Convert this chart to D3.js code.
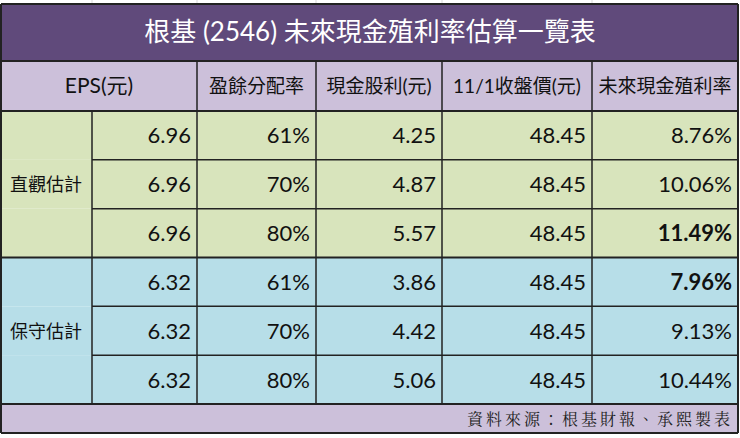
<!DOCTYPE html>
<html><head><meta charset="utf-8">
<script src="https://cdn.jsdelivr.net/npm/d3@7"></script>
<style>body{margin:0;background:#fff}</style></head>
<body><svg id="c" width="740" height="438"></svg>
<script>
const title = "根基 (2546) 未來現金殖利率估算一覽表";
const headers = ["EPS(元)", "盈餘分配率", "現金股利(元)", "11/1收盤價(元)", "未來現金殖利率"];
const groups = ["直觀估計", "保守估計"];
const eps = ["6.96","6.96","6.96","6.32","6.32","6.32"];
const payout = ["61%","70%","80%","61%","70%","80%"];
const dividend = ["4.25","4.87","5.57","3.86","4.42","5.06"];
const price = ["48.45","48.45","48.45","48.45","48.45","48.45"];
const yieldPct = ["8.76%","10.06%","11.49%","7.96%","9.13%","10.44%"];
const boldYield = ["11.49%","7.96%"];
const source = "資料來源：根基財報、承熙製表";

const svg = d3.select("#c");
const xs = [1, 92, 197, 316, 442, 592, 738];
const font = "Lato, 'Noto Sans CJK TC', sans-serif";
const y = d3.scaleLinear().domain([0, 6]).range([111, 404]);
const rowH = y(1) - y(0);
svg.append("rect").attr("x",0).attr("y",0).attr("width",740).attr("height",438).attr("fill","#fff");
[92,197,316,442,592].forEach(x=>svg.append("line").attr("x1",x).attr("x2",x).attr("y1",0).attr("y2",4).attr("stroke","#d9d9d9"));
svg.append("rect").attr("x",1).attr("y",4).attr("width",737).attr("height",57).attr("fill","#604a7b");
svg.append("text").attr("x",370).attr("y",41).attr("text-anchor","middle").attr("fill","#fff")
  .attr("font-family",font).attr("font-size",26).text(title);
svg.append("rect").attr("x",1).attr("y",61).attr("width",737).attr("height",50).attr("fill","#ccc0da");
const hx = [[xs[0],xs[2]],[xs[2],xs[3]],[xs[3],xs[4]],[xs[4],xs[5]],[xs[5],xs[6]]];
headers.forEach((h,i)=>{
  svg.append("text").attr("x",(hx[i][0]+hx[i][1])/2).attr("y",93).attr("text-anchor","middle")
   .attr("font-family",font).attr("font-size",i==0?21:19).attr("fill","#111").text(h);
});
const rows = d3.range(6);
svg.selectAll("rect.row").data(rows).join("rect").attr("class","row").attr("x",1).attr("y",d=>y(d)).attr("width",737).attr("height",rowH)
  .attr("fill",d=>d<3?"#d8e4bc":"#b7dee8");
groups.forEach((g,i)=>svg.append("text").attr("x",46).attr("y",y(i*3+1.5)+7).attr("text-anchor","middle")
  .attr("font-family",font).attr("font-size",18).attr("fill","#111").text(g));
const cols = [eps,payout,dividend,price,yieldPct];
cols.forEach((arr,c)=>{
  svg.selectAll("text.c"+c).data(arr).join("text").attr("class","c"+c).attr("x",xs[c+2]-6).attr("y",(d,i)=>y(i)+rowH/2+8)
   .attr("text-anchor","end").attr("font-family",font).attr("font-size",22).attr("fill","#111")
   .attr("font-weight",d=>c==4&&boldYield.includes(d)?"bold":"normal").text(d=>d);
});
svg.append("rect").attr("x",1).attr("y",404).attr("width",737).attr("height",29).attr("fill","#ccc0da");
svg.append("text").attr("x",733).attr("y",425).attr("text-anchor","end").attr("font-family","'Noto Serif CJK TC','Noto Sans CJK TC',serif")
  .attr("font-size",16).attr("letter-spacing",3).attr("fill","#222").text(source);
const st="#222";
const L=(x1,y1,x2,y2,w)=>svg.append("line").attr("x1",x1).attr("y1",y1).attr("x2",x2).attr("y2",y2).attr("stroke",st).attr("stroke-width",w||1.5);
[4,61,111,404,433].forEach(v=>L(1,v,738,v,2));
L(1,4,1,433,2); L(738,4,738,433,2);
L(xs[1],111,xs[1],404); L(xs[2],61,xs[2],404);
[3,4,5].forEach(i=>L(xs[i],61,xs[i],404));
L(1,y(3),738,y(3),2);
[1,2,4,5].forEach(i=>L(xs[1],y(i),738,y(i)));
</script></body></html>
